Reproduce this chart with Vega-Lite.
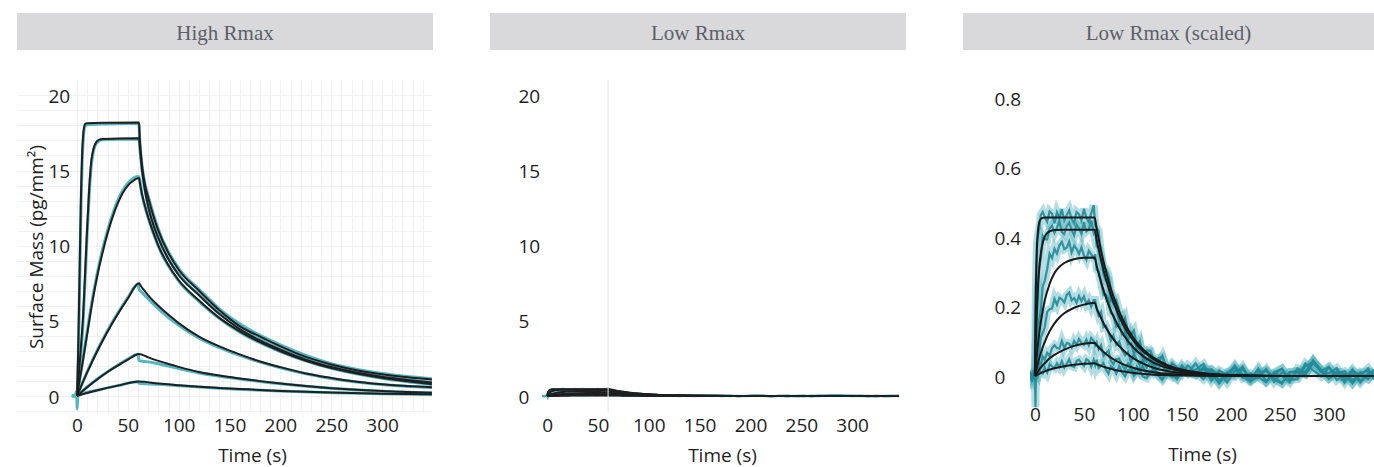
{
  "$schema": "https://vega.github.io/schema/vega-lite/v6.json",
  "background": "white",
  "padding": {"left": 17, "top": 13, "right": 0, "bottom": 3},
  "config": {
    "view": {"stroke": null},
    "axis": {
      "domain": false,
      "ticks": false,
      "tickSize": 0,
      "grid": false,
      "labelFont": "Open Sans",
      "labelFontSize": 19,
      "labelColor": "#1e1e1e",
      "labelOverlap": false,
      "labelFlush": false,
      "tickCount": 100,
      "titleFont": "Open Sans",
      "titleFontSize": 19,
      "titleFontWeight": "normal",
      "titleColor": "#1e1e1e"
    }
  },
  "datasets": {
    "hiFit": [
      {"c":"A","t":0,"y":0},{"c":"A","t":1,"y":2.5},{"c":"A","t":2,"y":6},{"c":"A","t":3,"y":10},{"c":"A","t":4,"y":13.6},{"c":"A","t":5,"y":16},{"c":"A","t":6,"y":17.3},{"c":"A","t":7,"y":17.9},{"c":"A","t":8,"y":18.1},{"c":"A","t":10,"y":18.15},{"c":"A","t":30,"y":18.18},{"c":"A","t":61,"y":18.2},{"c":"A","t":61.5,"y":17.4},{"c":"A","t":62,"y":16.8},{"c":"A","t":64,"y":15.3},{"c":"A","t":67,"y":14},{"c":"A","t":70,"y":13.2},{"c":"A","t":75,"y":12},{"c":"A","t":80,"y":11},{"c":"A","t":90,"y":9.5},{"c":"A","t":100,"y":8.4},{"c":"A","t":120,"y":7},{"c":"A","t":140,"y":5.7},{"c":"A","t":160,"y":4.65},{"c":"A","t":180,"y":3.95},{"c":"A","t":200,"y":3.3},{"c":"A","t":225,"y":2.6},{"c":"A","t":250,"y":2.1},{"c":"A","t":275,"y":1.72},{"c":"A","t":300,"y":1.45},{"c":"A","t":325,"y":1.25},{"c":"A","t":349,"y":1.1},
      {"c":"B","t":0,"y":0},{"c":"B","t":2,"y":1.6},{"c":"B","t":4,"y":3.4},{"c":"B","t":6,"y":5.3},{"c":"B","t":8,"y":8.2},{"c":"B","t":10,"y":11.2},{"c":"B","t":12,"y":13.8},{"c":"B","t":14,"y":15.6},{"c":"B","t":16,"y":16.4},{"c":"B","t":19,"y":16.9},{"c":"B","t":22,"y":17.05},{"c":"B","t":25,"y":17.1},{"c":"B","t":61,"y":17.15},{"c":"B","t":61.5,"y":16.8},{"c":"B","t":62,"y":16.4},{"c":"B","t":64,"y":15},{"c":"B","t":67,"y":13.6},{"c":"B","t":70,"y":12.6},{"c":"B","t":75,"y":11.4},{"c":"B","t":80,"y":10.5},{"c":"B","t":90,"y":9.1},{"c":"B","t":100,"y":8.05},{"c":"B","t":120,"y":6.7},{"c":"B","t":140,"y":5.45},{"c":"B","t":160,"y":4.45},{"c":"B","t":180,"y":3.7},{"c":"B","t":200,"y":3.08},{"c":"B","t":225,"y":2.42},{"c":"B","t":250,"y":1.93},{"c":"B","t":275,"y":1.56},{"c":"B","t":300,"y":1.28},{"c":"B","t":325,"y":1.07},{"c":"B","t":349,"y":0.9},
      {"c":"C","t":0,"y":0},{"c":"C","t":5,"y":2},{"c":"C","t":10,"y":4.1},{"c":"C","t":15,"y":6.2},{"c":"C","t":20,"y":8},{"c":"C","t":25,"y":9.5},{"c":"C","t":30,"y":10.8},{"c":"C","t":35,"y":11.9},{"c":"C","t":40,"y":12.8},{"c":"C","t":45,"y":13.5},{"c":"C","t":50,"y":14},{"c":"C","t":55,"y":14.3},{"c":"C","t":61,"y":14.5},{"c":"C","t":62,"y":14.1},{"c":"C","t":64,"y":13.4},{"c":"C","t":67,"y":12.6},{"c":"C","t":70,"y":11.9},{"c":"C","t":75,"y":10.9},{"c":"C","t":80,"y":10},{"c":"C","t":90,"y":8.7},{"c":"C","t":100,"y":7.7},{"c":"C","t":120,"y":6.35},{"c":"C","t":140,"y":5.2},{"c":"C","t":160,"y":4.3},{"c":"C","t":180,"y":3.58},{"c":"C","t":200,"y":2.98},{"c":"C","t":225,"y":2.35},{"c":"C","t":250,"y":1.86},{"c":"C","t":275,"y":1.5},{"c":"C","t":300,"y":1.2},{"c":"C","t":325,"y":0.98},{"c":"C","t":349,"y":0.78},
      {"c":"D","t":0,"y":0},{"c":"D","t":10,"y":1.57},{"c":"D","t":20,"y":2.99},{"c":"D","t":30,"y":4.28},{"c":"D","t":40,"y":5.44},{"c":"D","t":50,"y":6.49},{"c":"D","t":61,"y":7.5},{"c":"D","t":63,"y":7.3},{"c":"D","t":65,"y":7.12},{"c":"D","t":70,"y":6.7},{"c":"D","t":80,"y":6},{"c":"D","t":90,"y":5.4},{"c":"D","t":100,"y":4.85},{"c":"D","t":120,"y":3.95},{"c":"D","t":140,"y":3.3},{"c":"D","t":160,"y":2.77},{"c":"D","t":180,"y":2.3},{"c":"D","t":200,"y":1.92},{"c":"D","t":225,"y":1.5},{"c":"D","t":250,"y":1.2},{"c":"D","t":275,"y":0.95},{"c":"D","t":300,"y":0.78},{"c":"D","t":325,"y":0.66},{"c":"D","t":349,"y":0.58},
      {"c":"E","t":0,"y":0},{"c":"E","t":10,"y":0.58},{"c":"E","t":20,"y":1.11},{"c":"E","t":30,"y":1.6},{"c":"E","t":40,"y":2.02},{"c":"E","t":50,"y":2.42},{"c":"E","t":61,"y":2.8},{"c":"E","t":70,"y":2.57},{"c":"E","t":80,"y":2.34},{"c":"E","t":90,"y":2.13},{"c":"E","t":100,"y":1.94},{"c":"E","t":120,"y":1.6},{"c":"E","t":140,"y":1.36},{"c":"E","t":160,"y":1.17},{"c":"E","t":180,"y":0.99},{"c":"E","t":200,"y":0.83},{"c":"E","t":225,"y":0.66},{"c":"E","t":250,"y":0.52},{"c":"E","t":275,"y":0.41},{"c":"E","t":300,"y":0.33},{"c":"E","t":325,"y":0.27},{"c":"E","t":349,"y":0.22},
      {"c":"F","t":0,"y":0},{"c":"F","t":20,"y":0.38},{"c":"F","t":40,"y":0.69},{"c":"F","t":61,"y":0.96},{"c":"F","t":80,"y":0.83},{"c":"F","t":100,"y":0.72},{"c":"F","t":120,"y":0.62},{"c":"F","t":140,"y":0.54},{"c":"F","t":160,"y":0.47},{"c":"F","t":180,"y":0.4},{"c":"F","t":200,"y":0.34},{"c":"F","t":250,"y":0.23},{"c":"F","t":300,"y":0.15},{"c":"F","t":349,"y":0.11}
    ],
    "hiObs": [
      {"c":"A","t":-5,"y":0.05},{"c":"A","t":-2,"y":-0.05},{"c":"A","t":0,"y":0},{"c":"A","t":1,"y":1.8},{"c":"A","t":2,"y":5},{"c":"A","t":3,"y":9},{"c":"A","t":4,"y":12.8},{"c":"A","t":5,"y":15.4},{"c":"A","t":6,"y":16.9},{"c":"A","t":7,"y":17.7},{"c":"A","t":8,"y":17.95},{"c":"A","t":10,"y":18.05},{"c":"A","t":30,"y":18.1},{"c":"A","t":60,"y":18.15},{"c":"A","t":61,"y":18.05},{"c":"A","t":61.5,"y":17.3},{"c":"A","t":62,"y":16.75},{"c":"A","t":64,"y":15.3},{"c":"A","t":67,"y":14.05},{"c":"A","t":70,"y":13.3},{"c":"A","t":80,"y":11.1},{"c":"A","t":100,"y":8.5},{"c":"A","t":120,"y":7.1},{"c":"A","t":140,"y":5.8},{"c":"A","t":160,"y":4.8},{"c":"A","t":200,"y":3.4},{"c":"A","t":250,"y":2.15},{"c":"A","t":300,"y":1.5},{"c":"A","t":349,"y":1.15},
      {"c":"B","t":-5,"y":0},{"c":"B","t":-2,"y":0.03},{"c":"B","t":0,"y":0},{"c":"B","t":2,"y":1.3},{"c":"B","t":4,"y":3},{"c":"B","t":6,"y":4.9},{"c":"B","t":8,"y":7.8},{"c":"B","t":10,"y":10.8},{"c":"B","t":12,"y":13.4},{"c":"B","t":14,"y":15.3},{"c":"B","t":16,"y":16.2},{"c":"B","t":19,"y":16.8},{"c":"B","t":25,"y":17.05},{"c":"B","t":60,"y":17.1},{"c":"B","t":61,"y":17.05},{"c":"B","t":62,"y":16.35},{"c":"B","t":64,"y":15},{"c":"B","t":70,"y":12.65},{"c":"B","t":80,"y":10.55},{"c":"B","t":100,"y":8.1},{"c":"B","t":120,"y":6.75},{"c":"B","t":140,"y":5.5},{"c":"B","t":160,"y":4.55},{"c":"B","t":200,"y":3.12},{"c":"B","t":250,"y":1.97},{"c":"B","t":300,"y":1.3},{"c":"B","t":349,"y":0.92},
      {"c":"C","t":0,"y":0},{"c":"C","t":5,"y":2.1},{"c":"C","t":10,"y":4.3},{"c":"C","t":15,"y":6.4},{"c":"C","t":20,"y":8.2},{"c":"C","t":30,"y":11},{"c":"C","t":40,"y":13},{"c":"C","t":50,"y":14.15},{"c":"C","t":60,"y":14.6},{"c":"C","t":61,"y":14.55},{"c":"C","t":64,"y":13.35},{"c":"C","t":70,"y":11.85},{"c":"C","t":80,"y":9.95},{"c":"C","t":100,"y":7.65},{"c":"C","t":120,"y":6.3},{"c":"C","t":140,"y":5.15},{"c":"C","t":160,"y":4.25},{"c":"C","t":200,"y":2.95},{"c":"C","t":250,"y":1.84},{"c":"C","t":300,"y":1.18},{"c":"C","t":349,"y":0.77},
      {"c":"D","t":0,"y":0},{"c":"D","t":10,"y":1.6},{"c":"D","t":20,"y":3.05},{"c":"D","t":30,"y":4.35},{"c":"D","t":40,"y":5.5},{"c":"D","t":50,"y":6.55},{"c":"D","t":60,"y":7.45},{"c":"D","t":61,"y":7.1},{"c":"D","t":63,"y":6.95},{"c":"D","t":70,"y":6.45},{"c":"D","t":80,"y":5.8},{"c":"D","t":100,"y":4.7},{"c":"D","t":120,"y":3.85},{"c":"D","t":140,"y":3.22},{"c":"D","t":160,"y":2.7},{"c":"D","t":200,"y":1.88},{"c":"D","t":250,"y":1.17},{"c":"D","t":300,"y":0.76},{"c":"D","t":349,"y":0.56},
      {"c":"E","t":0,"y":0},{"c":"E","t":10,"y":0.6},{"c":"E","t":20,"y":1.13},{"c":"E","t":30,"y":1.62},{"c":"E","t":40,"y":2.05},{"c":"E","t":50,"y":2.45},{"c":"E","t":60,"y":2.78},{"c":"E","t":61,"y":2.35},{"c":"E","t":63,"y":2.33},{"c":"E","t":70,"y":2.27},{"c":"E","t":80,"y":2.15},{"c":"E","t":100,"y":1.83},{"c":"E","t":120,"y":1.53},{"c":"E","t":140,"y":1.31},{"c":"E","t":160,"y":1.13},{"c":"E","t":200,"y":0.81},{"c":"E","t":250,"y":0.51},{"c":"E","t":300,"y":0.32},{"c":"E","t":349,"y":0.21},
      {"c":"F","t":-5,"y":0.02},{"c":"F","t":-2,"y":-0.03},{"c":"F","t":-0.5,"y":0.3},{"c":"F","t":0.2,"y":-0.85},{"c":"F","t":0.8,"y":0.05},{"c":"F","t":20,"y":0.38},{"c":"F","t":40,"y":0.69},{"c":"F","t":60,"y":0.95},{"c":"F","t":61,"y":0.85},{"c":"F","t":80,"y":0.78},{"c":"F","t":100,"y":0.69},{"c":"F","t":140,"y":0.52},{"c":"F","t":200,"y":0.33},{"c":"F","t":250,"y":0.22},{"c":"F","t":300,"y":0.15},{"c":"F","t":349,"y":0.1}
    ],
    "loFit": [
      {"c":1,"t":0,"y":0},{"c":1,"t":0.5,"y":0.151},{"c":1,"t":1,"y":0.252},{"c":1,"t":1.5,"y":0.319},{"c":1,"t":2,"y":0.362},{"c":1,"t":3,"y":0.415},{"c":1,"t":4,"y":0.438},{"c":1,"t":5,"y":0.449},{"c":1,"t":6,"y":0.453},{"c":1,"t":8,"y":0.456},{"c":1,"t":10,"y":0.457},{"c":1,"t":30,"y":0.457},{"c":1,"t":61,"y":0.457},{"c":1,"t":63,"y":0.425},{"c":1,"t":66,"y":0.382},{"c":1,"t":71,"y":0.319},{"c":1,"t":76,"y":0.266},{"c":1,"t":81,"y":0.223},{"c":1,"t":91,"y":0.155},{"c":1,"t":101,"y":0.108},{"c":1,"t":111,"y":0.075},{"c":1,"t":121,"y":0.053},{"c":1,"t":136,"y":0.031},{"c":1,"t":151,"y":0.018},{"c":1,"t":176,"y":0.007},{"c":1,"t":201,"y":0.003},{"c":1,"t":251,"y":0.0005},{"c":1,"t":346,"y":0},
      {"c":2,"t":0,"y":0},{"c":2,"t":1,"y":0.109},{"c":2,"t":2,"y":0.19},{"c":2,"t":3,"y":0.25},{"c":2,"t":4,"y":0.295},{"c":2,"t":5,"y":0.328},{"c":2,"t":6,"y":0.352},{"c":2,"t":8,"y":0.384},{"c":2,"t":10,"y":0.401},{"c":2,"t":12,"y":0.411},{"c":2,"t":15,"y":0.417},{"c":2,"t":20,"y":0.421},{"c":2,"t":30,"y":0.422},{"c":2,"t":61,"y":0.422},{"c":2,"t":63,"y":0.393},{"c":2,"t":66,"y":0.352},{"c":2,"t":71,"y":0.295},{"c":2,"t":76,"y":0.246},{"c":2,"t":81,"y":0.206},{"c":2,"t":91,"y":0.143},{"c":2,"t":101,"y":0.1},{"c":2,"t":111,"y":0.07},{"c":2,"t":121,"y":0.049},{"c":2,"t":136,"y":0.028},{"c":2,"t":151,"y":0.016},{"c":2,"t":176,"y":0.007},{"c":2,"t":201,"y":0.003},{"c":2,"t":251,"y":0},{"c":2,"t":346,"y":0},
      {"c":3,"t":0,"y":0},{"c":3,"t":2,"y":0.062},{"c":3,"t":4,"y":0.113},{"c":3,"t":6,"y":0.155},{"c":3,"t":8,"y":0.189},{"c":3,"t":10,"y":0.217},{"c":3,"t":15,"y":0.266},{"c":3,"t":20,"y":0.297},{"c":3,"t":25,"y":0.315},{"c":3,"t":30,"y":0.326},{"c":3,"t":40,"y":0.337},{"c":3,"t":50,"y":0.341},{"c":3,"t":61,"y":0.342},{"c":3,"t":63,"y":0.318},{"c":3,"t":66,"y":0.286},{"c":3,"t":71,"y":0.239},{"c":3,"t":76,"y":0.199},{"c":3,"t":81,"y":0.167},{"c":3,"t":91,"y":0.116},{"c":3,"t":101,"y":0.081},{"c":3,"t":111,"y":0.056},{"c":3,"t":121,"y":0.039},{"c":3,"t":136,"y":0.023},{"c":3,"t":151,"y":0.013},{"c":3,"t":176,"y":0.005},{"c":3,"t":201,"y":0.002},{"c":3,"t":251,"y":0},{"c":3,"t":346,"y":0},
      {"c":4,"t":0,"y":0},{"c":4,"t":5,"y":0.057},{"c":4,"t":10,"y":0.098},{"c":4,"t":15,"y":0.129},{"c":4,"t":20,"y":0.152},{"c":4,"t":25,"y":0.169},{"c":4,"t":30,"y":0.181},{"c":4,"t":40,"y":0.197},{"c":4,"t":50,"y":0.206},{"c":4,"t":61,"y":0.211},{"c":4,"t":63,"y":0.196},{"c":4,"t":66,"y":0.176},{"c":4,"t":71,"y":0.147},{"c":4,"t":76,"y":0.123},{"c":4,"t":81,"y":0.103},{"c":4,"t":91,"y":0.072},{"c":4,"t":101,"y":0.05},{"c":4,"t":111,"y":0.035},{"c":4,"t":121,"y":0.024},{"c":4,"t":136,"y":0.014},{"c":4,"t":151,"y":0.008},{"c":4,"t":176,"y":0.003},{"c":4,"t":201,"y":0.001},{"c":4,"t":251,"y":0},{"c":4,"t":346,"y":0},
      {"c":5,"t":0,"y":0},{"c":5,"t":5,"y":0.021},{"c":5,"t":10,"y":0.037},{"c":5,"t":15,"y":0.051},{"c":5,"t":20,"y":0.061},{"c":5,"t":30,"y":0.076},{"c":5,"t":40,"y":0.087},{"c":5,"t":50,"y":0.093},{"c":5,"t":61,"y":0.096},{"c":5,"t":63,"y":0.089},{"c":5,"t":66,"y":0.08},{"c":5,"t":71,"y":0.067},{"c":5,"t":76,"y":0.056},{"c":5,"t":81,"y":0.047},{"c":5,"t":91,"y":0.033},{"c":5,"t":101,"y":0.023},{"c":5,"t":111,"y":0.016},{"c":5,"t":121,"y":0.011},{"c":5,"t":136,"y":0.006},{"c":5,"t":151,"y":0.004},{"c":5,"t":176,"y":0.0015},{"c":5,"t":201,"y":0.0005},{"c":5,"t":251,"y":0},{"c":5,"t":346,"y":0},
      {"c":6,"t":0,"y":0},{"c":6,"t":10,"y":0.0134},{"c":6,"t":20,"y":0.0224},{"c":6,"t":30,"y":0.0285},{"c":6,"t":40,"y":0.0325},{"c":6,"t":50,"y":0.0352},{"c":6,"t":61,"y":0.0371},{"c":6,"t":63,"y":0.034},{"c":6,"t":66,"y":0.031},{"c":6,"t":71,"y":0.026},{"c":6,"t":76,"y":0.022},{"c":6,"t":81,"y":0.018},{"c":6,"t":91,"y":0.013},{"c":6,"t":101,"y":0.009},{"c":6,"t":111,"y":0.006},{"c":6,"t":121,"y":0.004},{"c":6,"t":136,"y":0.0025},{"c":6,"t":151,"y":0.0014},{"c":6,"t":176,"y":0.0006},{"c":6,"t":201,"y":0},{"c":6,"t":251,"y":0},{"c":6,"t":346,"y":0}
    ],
    "loObs": [
      {"c":1,"t":-5,"y":0.012},{"c":1,"t":-3,"y":-0.008},{"c":1,"t":-1.5,"y":0.018},{"c":1,"t":0,"y":-0.015},{"c":1,"t":1,"y":0.256},{"c":1,"t":2,"y":0.383},{"c":1,"t":3,"y":0.404},{"c":1,"t":4.5,"y":0.426},{"c":1,"t":6,"y":0.464},{"c":1,"t":8,"y":0.473},{"c":1,"t":10,"y":0.459},{"c":1,"t":12.5,"y":0.445},{"c":1,"t":15,"y":0.475},{"c":1,"t":17.5,"y":0.468},{"c":1,"t":20,"y":0.441},{"c":1,"t":22.5,"y":0.472},{"c":1,"t":25,"y":0.455},{"c":1,"t":27.5,"y":0.481},{"c":1,"t":30,"y":0.449},{"c":1,"t":32.5,"y":0.464},{"c":1,"t":35,"y":0.478},{"c":1,"t":37.5,"y":0.453},{"c":1,"t":40,"y":0.44},{"c":1,"t":42.5,"y":0.473},{"c":1,"t":45,"y":0.467},{"c":1,"t":47.5,"y":0.448},{"c":1,"t":50,"y":0.482},{"c":1,"t":52.5,"y":0.456},{"c":1,"t":55,"y":0.444},{"c":1,"t":57.5,"y":0.47},{"c":1,"t":60,"y":0.492},
      {"c":1,"t":61.5,"y":0.437},{"c":1,"t":63,"y":0.428},{"c":1,"t":65,"y":0.418},{"c":1,"t":67.5,"y":0.351},{"c":1,"t":70,"y":0.314},{"c":1,"t":72.5,"y":0.309},{"c":1,"t":75,"y":0.293},{"c":1,"t":77.5,"y":0.248},{"c":1,"t":80,"y":0.211},{"c":1,"t":83,"y":0.219},{"c":1,"t":86,"y":0.187},{"c":1,"t":89,"y":0.152},{"c":1,"t":92,"y":0.168},{"c":1,"t":95,"y":0.126},{"c":1,"t":98,"y":0.119},{"c":1,"t":101,"y":0.131},{"c":1,"t":104,"y":0.085},{"c":1,"t":107,"y":0.096},{"c":1,"t":110,"y":0.059},{"c":1,"t":114,"y":0.074},{"c":1,"t":118,"y":0.073},{"c":1,"t":122,"y":0.04},{"c":1,"t":126,"y":0.039},{"c":1,"t":130,"y":0.058},{"c":1,"t":135,"y":0.015},{"c":1,"t":140,"y":0.037},{"c":1,"t":145,"y":0.025},{"c":1,"t":150,"y":0.006},
      {"c":1,"t":156,"y":0.031},{"c":1,"t":164,"y":0.011},{"c":1,"t":172,"y":-0.009},{"c":1,"t":180,"y":0.019},{"c":1,"t":188,"y":0.004},{"c":1,"t":196,"y":-0.007},{"c":1,"t":204,"y":0.027},{"c":1,"t":212,"y":-0.006},{"c":1,"t":220,"y":0.008},{"c":1,"t":228,"y":-0.003},{"c":1,"t":236,"y":-0.018},{"c":1,"t":244,"y":0.011},{"c":1,"t":252,"y":0.021},{"c":1,"t":260,"y":-0.01},{"c":1,"t":268,"y":0.012},{"c":1,"t":276,"y":0.004},{"c":1,"t":284,"y":0.038},{"c":1,"t":292,"y":0.014},{"c":1,"t":300,"y":0.027},{"c":1,"t":308,"y":-0.012},{"c":1,"t":316,"y":0.005},{"c":1,"t":324,"y":-0.02},{"c":1,"t":332,"y":0.009},{"c":1,"t":340,"y":0.015},{"c":1,"t":346,"y":-0.004},
      {"c":2,"t":-5,"y":0.011},{"c":2,"t":-3,"y":-0.008},{"c":2,"t":-1.5,"y":0.001},{"c":2,"t":0,"y":0.01},{"c":2,"t":1,"y":0.1},{"c":2,"t":2,"y":0.168},{"c":2,"t":3,"y":0.261},{"c":2,"t":4.5,"y":0.317},{"c":2,"t":6,"y":0.338},{"c":2,"t":8,"y":0.404},{"c":2,"t":10,"y":0.395},{"c":2,"t":12.5,"y":0.394},{"c":2,"t":15,"y":0.425},{"c":2,"t":17.5,"y":0.434},{"c":2,"t":20,"y":0.413},{"c":2,"t":22.5,"y":0.428},{"c":2,"t":25,"y":0.447},{"c":2,"t":27.5,"y":0.415},{"c":2,"t":30,"y":0.409},{"c":2,"t":32.5,"y":0.432},{"c":2,"t":35,"y":0.442},{"c":2,"t":37.5,"y":0.421},{"c":2,"t":40,"y":0.405},{"c":2,"t":42.5,"y":0.437},{"c":2,"t":45,"y":0.426},{"c":2,"t":47.5,"y":0.41},{"c":2,"t":50,"y":0.443},{"c":2,"t":52.5,"y":0.417},{"c":2,"t":55,"y":0.423},{"c":2,"t":57.5,"y":0.448},{"c":2,"t":60,"y":0.413},
      {"c":2,"t":61.5,"y":0.423},{"c":2,"t":63,"y":0.374},{"c":2,"t":65,"y":0.371},{"c":2,"t":67.5,"y":0.349},{"c":2,"t":70,"y":0.294},{"c":2,"t":72.5,"y":0.274},{"c":2,"t":75,"y":0.275},{"c":2,"t":77.5,"y":0.216},{"c":2,"t":80,"y":0.223},{"c":2,"t":83,"y":0.194},{"c":2,"t":86,"y":0.159},{"c":2,"t":89,"y":0.17},{"c":2,"t":92,"y":0.129},{"c":2,"t":95,"y":0.103},{"c":2,"t":98,"y":0.125},{"c":2,"t":101,"y":0.104},{"c":2,"t":104,"y":0.083},{"c":2,"t":107,"y":0.1},{"c":2,"t":110,"y":0.058},{"c":2,"t":114,"y":0.07},{"c":2,"t":118,"y":0.051},{"c":2,"t":122,"y":0.029},{"c":2,"t":126,"y":0.052},{"c":2,"t":130,"y":0.056},{"c":2,"t":135,"y":0.019},{"c":2,"t":140,"y":0.027},{"c":2,"t":145,"y":0.005},{"c":2,"t":150,"y":0.03},
      {"c":2,"t":156,"y":0.009},{"c":2,"t":164,"y":0.037},{"c":2,"t":172,"y":0},{"c":2,"t":180,"y":0.01},{"c":2,"t":188,"y":-0.02},{"c":2,"t":196,"y":0.009},{"c":2,"t":204,"y":0.023},{"c":2,"t":212,"y":0.004},{"c":2,"t":220,"y":-0.011},{"c":2,"t":228,"y":0.022},{"c":2,"t":236,"y":-0.015},{"c":2,"t":244,"y":0.007},{"c":2,"t":252,"y":0.001},{"c":2,"t":260,"y":-0.018},{"c":2,"t":268,"y":0.022},{"c":2,"t":276,"y":0.012},{"c":2,"t":284,"y":0.043},{"c":2,"t":292,"y":0.018},{"c":2,"t":300,"y":-0.003},{"c":2,"t":308,"y":0.01},{"c":2,"t":316,"y":-0.019},{"c":2,"t":324,"y":0.016},{"c":2,"t":332,"y":0.003},{"c":2,"t":340,"y":-0.009},{"c":2,"t":346,"y":0.012},
      {"c":3,"t":-5,"y":-0.006},{"c":3,"t":-3,"y":-0.01},{"c":3,"t":-1.5,"y":0.004},{"c":3,"t":0,"y":0.01},{"c":3,"t":1,"y":0.037},{"c":3,"t":2,"y":0.064},{"c":3,"t":3,"y":0.125},{"c":3,"t":4.5,"y":0.161},{"c":3,"t":6,"y":0.188},{"c":3,"t":8,"y":0.259},{"c":3,"t":10,"y":0.274},{"c":3,"t":12.5,"y":0.308},{"c":3,"t":15,"y":0.353},{"c":3,"t":17.5,"y":0.34},{"c":3,"t":20,"y":0.367},{"c":3,"t":22.5,"y":0.353},{"c":3,"t":25,"y":0.377},{"c":3,"t":27.5,"y":0.387},{"c":3,"t":30,"y":0.366},{"c":3,"t":32.5,"y":0.37},{"c":3,"t":35,"y":0.388},{"c":3,"t":37.5,"y":0.356},{"c":3,"t":40,"y":0.376},{"c":3,"t":42.5,"y":0.367},{"c":3,"t":45,"y":0.352},{"c":3,"t":47.5,"y":0.371},{"c":3,"t":50,"y":0.348},{"c":3,"t":52.5,"y":0.335},{"c":3,"t":55,"y":0.361},{"c":3,"t":57.5,"y":0.351},{"c":3,"t":60,"y":0.34},
      {"c":3,"t":61.5,"y":0.351},{"c":3,"t":63,"y":0.307},{"c":3,"t":65,"y":0.302},{"c":3,"t":67.5,"y":0.269},{"c":3,"t":70,"y":0.233},{"c":3,"t":72.5,"y":0.235},{"c":3,"t":75,"y":0.224},{"c":3,"t":77.5,"y":0.181},{"c":3,"t":80,"y":0.175},{"c":3,"t":83,"y":0.142},{"c":3,"t":86,"y":0.149},{"c":3,"t":89,"y":0.12},{"c":3,"t":92,"y":0.126},{"c":3,"t":95,"y":0.091},{"c":3,"t":98,"y":0.094},{"c":3,"t":101,"y":0.065},{"c":3,"t":104,"y":0.08},{"c":3,"t":107,"y":0.077},{"c":3,"t":110,"y":0.055},{"c":3,"t":114,"y":0.042},{"c":3,"t":118,"y":0.062},{"c":3,"t":122,"y":0.026},{"c":3,"t":126,"y":0.039},{"c":3,"t":130,"y":0.03},{"c":3,"t":135,"y":0.01},{"c":3,"t":140,"y":0.03},{"c":3,"t":145,"y":0.011},{"c":3,"t":150,"y":0.028},
      {"c":3,"t":156,"y":0.013},{"c":3,"t":164,"y":0.007},{"c":3,"t":172,"y":0.022},{"c":3,"t":180,"y":-0.014},{"c":3,"t":188,"y":0.016},{"c":3,"t":196,"y":0.003},{"c":3,"t":204,"y":-0.001},{"c":3,"t":212,"y":0.02},{"c":3,"t":220,"y":-0.008},{"c":3,"t":228,"y":0.018},{"c":3,"t":236,"y":-0.015},{"c":3,"t":244,"y":0.004},{"c":3,"t":252,"y":0.021},{"c":3,"t":260,"y":-0.011},{"c":3,"t":268,"y":-0.009},{"c":3,"t":276,"y":0.029},{"c":3,"t":284,"y":0.04},{"c":3,"t":292,"y":0.017},{"c":3,"t":300,"y":-0.007},{"c":3,"t":308,"y":0.013},{"c":3,"t":316,"y":0.006},{"c":3,"t":324,"y":-0.021},{"c":3,"t":332,"y":0.01},{"c":3,"t":340,"y":-0.007},{"c":3,"t":346,"y":0.019},
      {"c":4,"t":-5,"y":0.009},{"c":4,"t":-3,"y":-0.007},{"c":4,"t":-1.5,"y":-0.003},{"c":4,"t":0,"y":0.012},{"c":4,"t":1,"y":0.008},{"c":4,"t":2,"y":0.047},{"c":4,"t":3,"y":0.057},{"c":4,"t":4.5,"y":0.071},{"c":4,"t":6,"y":0.111},{"c":4,"t":8,"y":0.124},{"c":4,"t":10,"y":0.14},{"c":4,"t":12.5,"y":0.185},{"c":4,"t":15,"y":0.193},{"c":4,"t":17.5,"y":0.195},{"c":4,"t":20,"y":0.223},{"c":4,"t":22.5,"y":0.206},{"c":4,"t":25,"y":0.226},{"c":4,"t":27.5,"y":0.221},{"c":4,"t":30,"y":0.212},{"c":4,"t":32.5,"y":0.234},{"c":4,"t":35,"y":0.241},{"c":4,"t":37.5,"y":0.218},{"c":4,"t":40,"y":0.225},{"c":4,"t":42.5,"y":0.212},{"c":4,"t":45,"y":0.231},{"c":4,"t":47.5,"y":0.216},{"c":4,"t":50,"y":0.23},{"c":4,"t":52.5,"y":0.208},{"c":4,"t":55,"y":0.219},{"c":4,"t":57.5,"y":0.2},{"c":4,"t":60,"y":0.219},
      {"c":4,"t":61.5,"y":0.219},{"c":4,"t":63,"y":0.193},{"c":4,"t":65,"y":0.174},{"c":4,"t":67.5,"y":0.185},{"c":4,"t":70,"y":0.141},{"c":4,"t":72.5,"y":0.145},{"c":4,"t":75,"y":0.128},{"c":4,"t":77.5,"y":0.102},{"c":4,"t":80,"y":0.117},{"c":4,"t":83,"y":0.09},{"c":4,"t":86,"y":0.1},{"c":4,"t":89,"y":0.075},{"c":4,"t":92,"y":0.059},{"c":4,"t":95,"y":0.07},{"c":4,"t":98,"y":0.041},{"c":4,"t":101,"y":0.063},{"c":4,"t":104,"y":0.047},{"c":4,"t":107,"y":0.033},{"c":4,"t":110,"y":0.046},{"c":4,"t":114,"y":0.025},{"c":4,"t":118,"y":0.041},{"c":4,"t":122,"y":0.011},{"c":4,"t":126,"y":0.023},{"c":4,"t":130,"y":0.035},{"c":4,"t":135,"y":0.006},{"c":4,"t":140,"y":-0.003},{"c":4,"t":145,"y":0.017},{"c":4,"t":150,"y":0.021},
      {"c":4,"t":156,"y":0.012},{"c":4,"t":164,"y":0.003},{"c":4,"t":172,"y":0.025},{"c":4,"t":180,"y":0.011},{"c":4,"t":188,"y":-0.021},{"c":4,"t":196,"y":0.01},{"c":4,"t":204,"y":0.001},{"c":4,"t":212,"y":0.027},{"c":4,"t":220,"y":-0.013},{"c":4,"t":228,"y":0.002},{"c":4,"t":236,"y":0.016},{"c":4,"t":244,"y":-0.009},{"c":4,"t":252,"y":-0.022},{"c":4,"t":260,"y":0.011},{"c":4,"t":268,"y":0.015},{"c":4,"t":276,"y":0.006},{"c":4,"t":284,"y":0.045},{"c":4,"t":292,"y":0.014},{"c":4,"t":300,"y":-0.008},{"c":4,"t":308,"y":0.008},{"c":4,"t":316,"y":0.014},{"c":4,"t":324,"y":-0.012},{"c":4,"t":332,"y":0.003},{"c":4,"t":340,"y":0.022},{"c":4,"t":346,"y":-0.01},
      {"c":5,"t":-5,"y":-0.002},{"c":5,"t":-3,"y":-0.011},{"c":5,"t":-1.5,"y":0.007},{"c":5,"t":0,"y":0.013},{"c":5,"t":1,"y":0.002},{"c":5,"t":2,"y":0.016},{"c":5,"t":3,"y":0.01},{"c":5,"t":4.5,"y":0.038},{"c":5,"t":6,"y":0.033},{"c":5,"t":8,"y":0.057},{"c":5,"t":10,"y":0.048},{"c":5,"t":12.5,"y":0.067},{"c":5,"t":15,"y":0.058},{"c":5,"t":17.5,"y":0.081},{"c":5,"t":20,"y":0.089},{"c":5,"t":22.5,"y":0.081},{"c":5,"t":25,"y":0.079},{"c":5,"t":27.5,"y":0.101},{"c":5,"t":30,"y":0.081},{"c":5,"t":32.5,"y":0.095},{"c":5,"t":35,"y":0.093},{"c":5,"t":37.5,"y":0.082},{"c":5,"t":40,"y":0.101},{"c":5,"t":42.5,"y":0.09},{"c":5,"t":45,"y":0.107},{"c":5,"t":47.5,"y":0.096},{"c":5,"t":50,"y":0.09},{"c":5,"t":52.5,"y":0.105},{"c":5,"t":55,"y":0.089},{"c":5,"t":57.5,"y":0.11},{"c":5,"t":60,"y":0.102},
      {"c":5,"t":61.5,"y":0.088},{"c":5,"t":63,"y":0.097},{"c":5,"t":65,"y":0.077},{"c":5,"t":67.5,"y":0.089},{"c":5,"t":70,"y":0.058},{"c":5,"t":72.5,"y":0.066},{"c":5,"t":75,"y":0.073},{"c":5,"t":77.5,"y":0.045},{"c":5,"t":80,"y":0.035},{"c":5,"t":83,"y":0.049},{"c":5,"t":86,"y":0.05},{"c":5,"t":89,"y":0.033},{"c":5,"t":92,"y":0.019},{"c":5,"t":95,"y":0.037},{"c":5,"t":98,"y":0.029},{"c":5,"t":101,"y":0.008},{"c":5,"t":104,"y":0.027},{"c":5,"t":107,"y":0.013},{"c":5,"t":110,"y":0.029},{"c":5,"t":114,"y":0.005},{"c":5,"t":118,"y":0.013},{"c":5,"t":122,"y":0.022},{"c":5,"t":126,"y":0.003},{"c":5,"t":130,"y":-0.007},{"c":5,"t":135,"y":0.015},{"c":5,"t":140,"y":0.01},{"c":5,"t":145,"y":-0.005},{"c":5,"t":150,"y":0.018},
      {"c":5,"t":156,"y":0.009},{"c":5,"t":164,"y":0.002},{"c":5,"t":172,"y":0.02},{"c":5,"t":180,"y":0.019},{"c":5,"t":188,"y":-0.012},{"c":5,"t":196,"y":0.003},{"c":5,"t":204,"y":0.03},{"c":5,"t":212,"y":-0.002},{"c":5,"t":220,"y":-0.016},{"c":5,"t":228,"y":0.007},{"c":5,"t":236,"y":0.017},{"c":5,"t":244,"y":-0.004},{"c":5,"t":252,"y":-0.02},{"c":5,"t":260,"y":0.012},{"c":5,"t":268,"y":0.011},{"c":5,"t":276,"y":0.005},{"c":5,"t":284,"y":0.043},{"c":5,"t":292,"y":0.012},{"c":5,"t":300,"y":0.008},{"c":5,"t":308,"y":0.023},{"c":5,"t":316,"y":-0.012},{"c":5,"t":324,"y":0.009},{"c":5,"t":332,"y":-0.019},{"c":5,"t":340,"y":0.006},{"c":5,"t":346,"y":0.015},
      {"c":6,"t":-5,"y":0.013},{"c":6,"t":-3,"y":-0.009},{"c":6,"t":-1.5,"y":0.004},{"c":6,"t":0,"y":0.001},{"c":6,"t":0.6,"y":-0.09},{"c":6,"t":1,"y":-0.008},{"c":6,"t":2,"y":0.012},{"c":6,"t":3,"y":0.002},{"c":6,"t":4.5,"y":0.02},{"c":6,"t":6,"y":0.01},{"c":6,"t":8,"y":0.007},{"c":6,"t":10,"y":0.024},{"c":6,"t":12.5,"y":0.01},{"c":6,"t":15,"y":0.034},{"c":6,"t":17.5,"y":0.028},{"c":6,"t":20,"y":0.023},{"c":6,"t":22.5,"y":0.037},{"c":6,"t":25,"y":0.026},{"c":6,"t":27.5,"y":0.043},{"c":6,"t":30,"y":0.024},{"c":6,"t":32.5,"y":0.036},{"c":6,"t":35,"y":0.048},{"c":6,"t":37.5,"y":0.029},{"c":6,"t":40,"y":0.026},{"c":6,"t":42.5,"y":0.043},{"c":6,"t":45,"y":0.047},{"c":6,"t":47.5,"y":0.037},{"c":6,"t":50,"y":0.029},{"c":6,"t":52.5,"y":0.048},{"c":6,"t":55,"y":0.044},{"c":6,"t":57.5,"y":0.027},{"c":6,"t":60,"y":0.047},
      {"c":6,"t":61.5,"y":0.031},{"c":6,"t":63,"y":0.047},{"c":6,"t":65,"y":0.023},{"c":6,"t":67.5,"y":0.03},{"c":6,"t":70,"y":0.038},{"c":6,"t":72.5,"y":0.018},{"c":6,"t":75,"y":0.007},{"c":6,"t":77.5,"y":0.028},{"c":6,"t":80,"y":0.023},{"c":6,"t":83,"y":0.007},{"c":6,"t":86,"y":0.029},{"c":6,"t":89,"y":0.01},{"c":6,"t":92,"y":-0.001},{"c":6,"t":95,"y":0.017},{"c":6,"t":98,"y":0.02},{"c":6,"t":101,"y":0.001},{"c":6,"t":104,"y":0.01},{"c":6,"t":107,"y":0.022},{"c":6,"t":110,"y":-0.001},{"c":6,"t":114,"y":-0.006},{"c":6,"t":118,"y":0.01},{"c":6,"t":122,"y":0.016},{"c":6,"t":126,"y":0.001},{"c":6,"t":130,"y":-0.011},{"c":6,"t":135,"y":0.011},{"c":6,"t":140,"y":0.003},{"c":6,"t":145,"y":-0.009},{"c":6,"t":150,"y":0.015},
      {"c":6,"t":156,"y":0.007},{"c":6,"t":164,"y":0.018},{"c":6,"t":172,"y":0.035},{"c":6,"t":180,"y":-0.007},{"c":6,"t":188,"y":0.009},{"c":6,"t":196,"y":-0.019},{"c":6,"t":204,"y":0.014},{"c":6,"t":212,"y":0.023},{"c":6,"t":220,"y":-0.011},{"c":6,"t":228,"y":-0.005},{"c":6,"t":236,"y":0.02},{"c":6,"t":244,"y":-0.017},{"c":6,"t":252,"y":0.01},{"c":6,"t":260,"y":0.003},{"c":6,"t":268,"y":-0.003},{"c":6,"t":276,"y":0.036},{"c":6,"t":284,"y":0.016},{"c":6,"t":292,"y":-0.001},{"c":6,"t":300,"y":0.024},{"c":6,"t":308,"y":0.004},{"c":6,"t":316,"y":-0.007},{"c":6,"t":324,"y":0.019},{"c":6,"t":332,"y":-0.014},{"c":6,"t":340,"y":0.008},{"c":6,"t":346,"y":-0.003}
    ]
  },
  "spacing": 29,
  "vconcat": [
    {
      "spacing": 57,
      "hconcat": [
        {
          "width": 416, "height": 37,
          "view": {"fill": "#d9d9db", "stroke": null},
          "data": {"values": [{"panel": "High Rmax"}]},
          "mark": {"type": "text", "font": "Liberation Serif", "fontSize": 21, "color": "#5b6069", "baseline": "middle", "dy": 2},
          "encoding": {"text": {"field": "panel", "type": "nominal"}}
        },
        {
          "width": 416, "height": 37,
          "view": {"fill": "#d9d9db", "stroke": null},
          "data": {"values": [{"panel": "Low Rmax"}]},
          "mark": {"type": "text", "font": "Liberation Serif", "fontSize": 21, "color": "#5b6069", "baseline": "middle", "dy": 2},
          "encoding": {"text": {"field": "panel", "type": "nominal"}}
        },
        {
          "width": 411, "height": 37,
          "view": {"fill": "#d9d9db", "stroke": null},
          "data": {"values": [{"panel": "Low Rmax (scaled)"}]},
          "mark": {"type": "text", "font": "Liberation Serif", "fontSize": 21, "color": "#5b6069", "baseline": "middle", "dy": 2},
          "encoding": {"text": {"field": "panel", "type": "nominal"}}
        }
      ]
    },
    {
      "spacing": 86,
      "hconcat": [
        {
          "width": 415, "height": 333,
          "layer": [
            {
              "data": {"name": "hiObs"},
              "mark": {"type": "line", "color": "#55b6c2", "strokeWidth": 3, "interpolate": "monotone", "clip": true},
              "encoding": {
                "x": {"field": "t", "type": "quantitative",
                  "scale": {"domain": [-59, 349.1], "nice": false, "zero": false},
                  "axis": {"title": "Time (s)", "titleX": 235, "values": [0,10,20,30,40,50,60,70,80,90,100,110,120,130,140,150,160,170,180,190,200,210,220,230,240,250,260,270,280,290,300,310,320,330,340],
                    "labelExpr": "datum.value % 50 === 0 ? format(datum.value, 'd') : ''", "grid": true, "gridColor": "#f1f1f1", "labelPadding": 3, "titlePadding": 11}},
                "y": {"field": "y", "type": "quantitative",
                  "scale": {"domain": [-1.13, 21.02], "nice": false, "zero": false},
                  "axis": {"title": "Surface Mass (pg/mm²)", "values": [-1,0,1,2,3,4,5,6,7,8,9,10,11,12,13,14,15,16,17,18,19,20],
                    "labelExpr": "datum.value % 5 === 0 ? format(datum.value, 'd') : ''", "grid": true, "gridColor": "#f1f1f1",
                    "offset": -55, "labelAlign": "left", "labelPadding": 24, "labelOffset": 1, "minExtent": 0, "titleX": -26}},
                "detail": {"field": "c", "type": "nominal"}
              }
            },
            {
              "data": {"name": "hiFit"},
              "mark": {"type": "line", "color": "#1f1f1f", "strokeWidth": 2, "interpolate": "monotone", "clip": true},
              "encoding": {
                "x": {"field": "t", "type": "quantitative"},
                "y": {"field": "y", "type": "quantitative"},
                "detail": {"field": "c", "type": "nominal"}
              }
            }
          ]
        },
        {
          "spacing": 92,
          "hconcat": [
            {
              "width": 360, "height": 333,
              "layer": [
                {
                  "data": {"name": "loObs"},
                  "mark": {"type": "line", "color": "#4aaab6", "strokeWidth": 2, "clip": true},
                  "encoding": {
                    "x": {"field": "t", "type": "quantitative",
                      "scale": {"domain": [-5, 349], "nice": false, "zero": false},
                      "axis": {"title": "Time (s)", "values": [0,50,100,150,200,250,300], "labelExpr": "format(datum.value, 'd')", "labelPadding": 3, "titlePadding": 11}},
                    "y": {"field": "y", "type": "quantitative",
                      "scale": {"domain": [-1.13, 21.02], "nice": false, "zero": false},
                      "axis": {"title": null, "values": [0,5,10,15,20], "labelExpr": "format(datum.value, 'd')", "labelAlign": "left", "labelPadding": 24, "labelOffset": 1, "minExtent": 24}},
                    "detail": {"field": "c", "type": "nominal"}
                  }
                },
                {
                  "data": {"name": "loFit"},
                  "mark": {"type": "line", "color": "#1f1f1f", "strokeWidth": 2, "interpolate": "monotone", "clip": true},
                  "encoding": {
                    "x": {"field": "t", "type": "quantitative"},
                    "y": {"field": "y", "type": "quantitative", "axis": {"title": null}},
                    "detail": {"field": "c", "type": "nominal"}
                  }
                },
                {
                  "data": {"values": [{"t": 60}]},
                  "mark": {"type": "rule", "color": "#e4e8ee", "strokeWidth": 1},
                  "encoding": {"x": {"field": "t", "type": "quantitative"}}
                }
              ]
            },
            {
              "width": 344, "height": 329,
              "layer": [
                {
                  "data": {"name": "loObs"},
                  "mark": {"type": "line", "color": "#57b3be", "strokeWidth": 8, "opacity": 0.45, "clip": true},
                  "encoding": {
                    "x": {"field": "t", "type": "quantitative",
                      "scale": {"domain": [-5, 346], "nice": false, "zero": false},
                      "axis": {"title": "Time (s)", "values": [0,50,100,150,200,250,300], "labelExpr": "format(datum.value, 'd')", "labelPadding": -4, "titlePadding": 21}},
                    "y": {"field": "y", "type": "quantitative",
                      "scale": {"domain": [-0.095, 0.8536], "nice": false, "zero": false},
                      "axis": {"title": null, "values": [0,0.2,0.4,0.6,0.8], "labelExpr": "datum.value === 0 ? '0' : format(datum.value, '.1f')", "labelAlign": "left", "labelPadding": 36, "labelOffset": 1, "minExtent": 36}},
                    "detail": {"field": "c", "type": "nominal"}
                  }
                },
                {
                  "data": {"name": "loObs"},
                  "mark": {"type": "line", "color": "#238b98", "strokeWidth": 2.2, "opacity": 0.9, "clip": true},
                  "encoding": {
                    "x": {"field": "t", "type": "quantitative"},
                    "y": {"field": "y", "type": "quantitative", "axis": {"title": null}},
                    "detail": {"field": "c", "type": "nominal"}
                  }
                },
                {
                  "data": {"name": "loFit"},
                  "mark": {"type": "line", "color": "#1a1a1a", "strokeWidth": 2, "interpolate": "monotone", "clip": true},
                  "encoding": {
                    "x": {"field": "t", "type": "quantitative"},
                    "y": {"field": "y", "type": "quantitative", "axis": {"title": null}},
                    "detail": {"field": "c", "type": "nominal"}
                  }
                }
              ]
            }
          ]
        }
      ]
    }
  ]
}
